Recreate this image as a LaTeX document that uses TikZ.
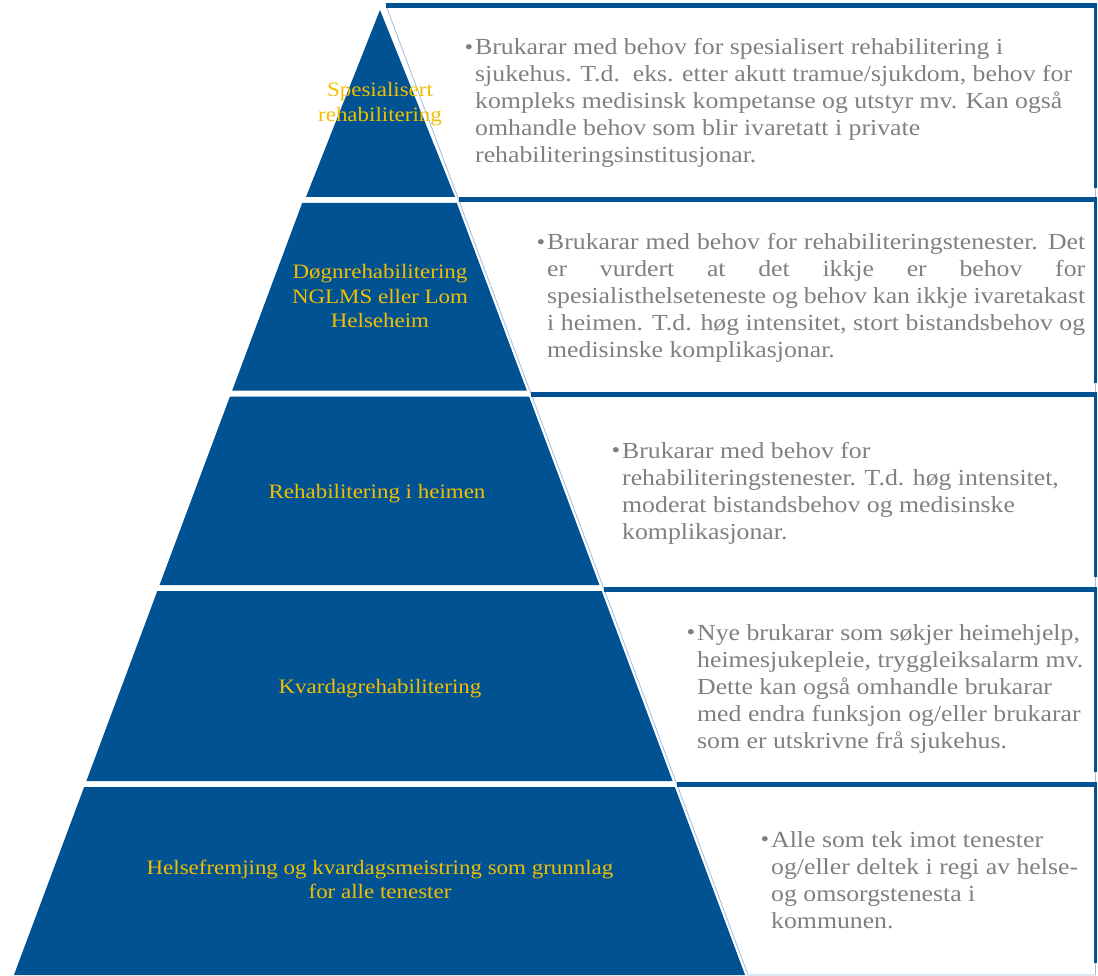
\documentclass[tikz,border=0pt]{standalone}
\usepackage{fontspec}
\setmainfont[FakeStretch=1.12]{Liberation Serif}
\definecolor{pyrblue}{RGB}{1,82,147}
\definecolor{labelgold}{RGB}{242,190,0}
\definecolor{bodygray}{RGB}{128,128,128}
\definecolor{edgelight}{RGB}{160,190,222}
\newcommand{\bulletmark}{\llap{\raisebox{0.5pt}{\fontsize{22}{22}\selectfont\textbullet}\hspace{2pt}}}
\begin{document}
\begin{tikzpicture}[x=1pt,y=-1pt,
  tier/.style={fill=pyrblue},
  tierlabel/.style={text=labelgold, font=\fontsize{20.5}{24.5}\selectfont, align=center, inner sep=0pt, anchor=base},
  bodytext/.style={text=bodygray, font=\fontsize{23}{27}\selectfont, align=left, inner sep=0pt, anchor=base west},
  boxedge/.style={draw=edgelight, line width=0.8pt},
  boxtop/.style={draw=pyrblue, line width=5pt},
  boxside/.style={draw=pyrblue, line width=3pt}]
\useasboundingbox (0,0) rectangle (1098,976);

% description panels, set behind the pyramid with a slanted left side
\foreach \yt/\yb in {5.5/200, 200/394.5, 394.5/589, 589/784, 784/975} {
  \fill[white] ({382.5+0.3734*(\yt+4)},\yt) -- ({382.5+0.3734*(\yb+4)},\yb) -- (1095.5,\yb) -- (1095.5,\yt) -- cycle;
  \draw[boxedge] ({382.5+0.3734*(\yt+4)},\yt) -- ({382.5+0.3734*(\yb+4)},\yb) -- (1095.5,\yb) -- (1095.5,\yt);
  \draw[boxside] (1095.5,\yt) -- (1095.5,{\yb-12});
  \draw[boxtop] ({382.5+0.3734*(\yt+4)},\yt) -- (1097,\yt);
}

% pyramid tiers
\fill[tier] (380,10) -- (455,197) -- (306,197) -- cycle;
\foreach \yt/\yb in {203/390.5, 396.5/585, 591/781, 787/975}
  \fill[tier] ({379.5-0.3734*(\yt+4)},\yt) -- ({379.5+0.3734*(\yt+4)},\yt)
     -- ({379.5+0.3734*(\yb+4)},\yb) -- ({379.5-0.3734*(\yb+4)},\yb) -- cycle;

% tier labels (a multi-line node sits on the baseline of its last line)
\node[tierlabel] (lab1) at (380,121.5) {Spesialisert\\rehabilitering};
\node[tierlabel] (lab2) at (380,328) {Døgnrehabilitering\\NGLMS eller Lom\\Helseheim};
\node[tierlabel] (lab3) at (377,498) {Rehabilitering i heimen};
\node[tierlabel] (lab4) at (380,693) {Kvardagrehabilitering};
\node[tierlabel] (lab5) at (380,898.5) {Helsefremjing og kvardagsmeistring som grunnlag\\for alle tenester};

% panel texts
\node[bodytext] (txt1) at (475,163) {\bulletmark Brukarar med behov for spesialisert rehabilitering i\\
  sjukehus. T.d.\ \ eks. etter akutt tramue/sjukdom, behov for\\
  kompleks medisinsk kompetanse og utstyr mv. Kan også\\
  omhandle behov som blir ivaretatt i private\\
  rehabiliteringsinstitusjonar.};
\node[bodytext] (txt2) at (547,358) {\bulletmark\makebox[538pt][s]{Brukarar med behov for rehabiliteringstenester. Det}\\
  \makebox[538pt][s]{er vurdert at det ikkje er behov for}\\
  \makebox[538pt][s]{spesialisthelseteneste og behov kan ikkje ivaretakast}\\
  \makebox[538pt][s]{i heimen. T.d. høg intensitet, stort bistandsbehov og}\\
  medisinske komplikasjonar.};
\node[bodytext] (txt3) at (622,539) {\bulletmark Brukarar med behov for\\
  rehabiliteringstenester. T.d. høg intensitet,\\
  moderat bistandsbehov og medisinske\\
  komplikasjonar.};
\node[bodytext] (txt4) at (697,748) {\bulletmark Nye brukarar som søkjer heimehjelp,\\
  heimesjukepleie, tryggleiksalarm mv.\\
  Dette kan også omhandle brukarar\\
  med endra funksjon og/eller brukarar\\
  som er utskrivne frå sjukehus.};
\node[bodytext] (txt5) at (771,928) {\bulletmark Alle som tek imot tenester\\
  og/eller deltek i regi av helse-\\
  og omsorgstenesta i\\
  kommunen.};
\end{tikzpicture}
\end{document}
